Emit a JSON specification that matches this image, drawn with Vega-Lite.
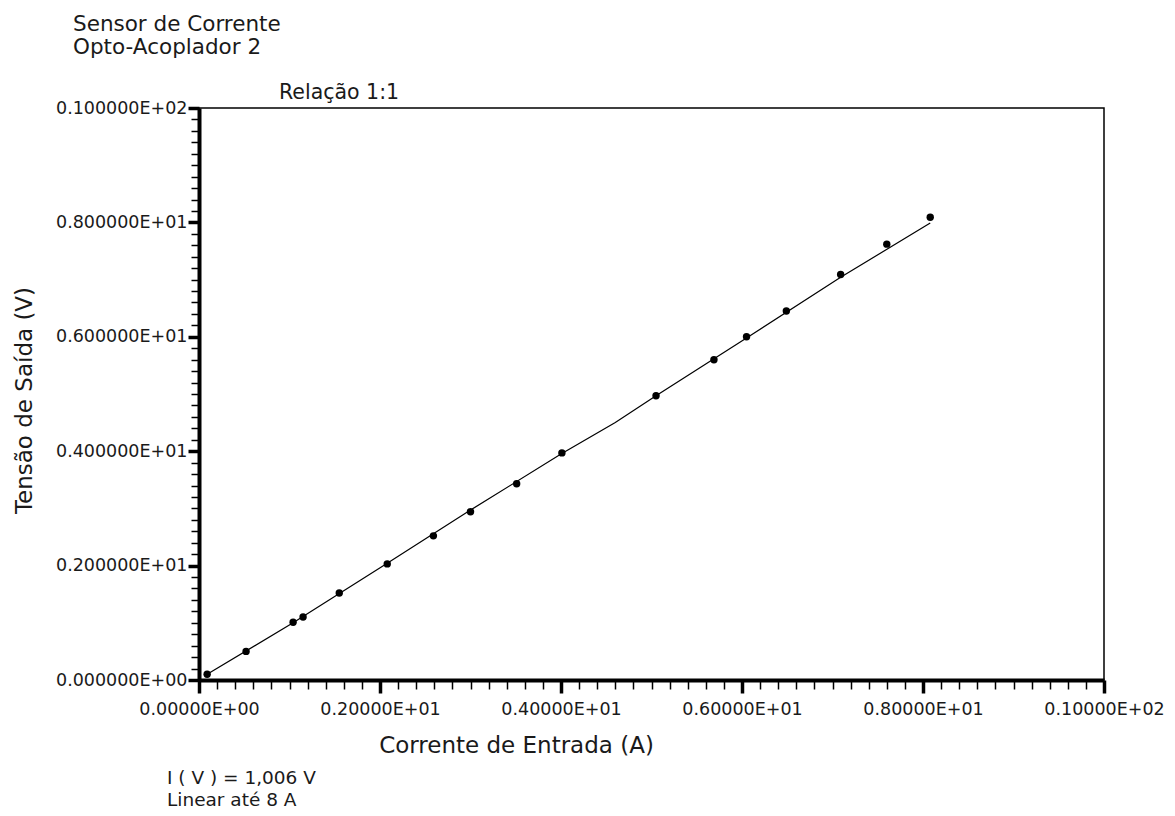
{
  "$schema": "https://vega.github.io/schema/vega-lite/v6.json",
  "width": 905,
  "height": 572,
  "autosize": {"type": "none"},
  "padding": {"left": 199, "top": 108, "right": 71, "bottom": 136},
  "background": "white",
  "config": {
    "font": "DejaVu Sans",
    "view": {"stroke": "black", "strokeWidth": 1.5}
  },
  "title": {
    "text": ["Sensor de Corrente", "Opto-Acoplador 2"],
    "anchor": "start",
    "frame": "group",
    "dx": -126,
    "dy": -5,
    "offset": 20,
    "font": "DejaVu Sans",
    "fontSize": 21.5,
    "fontWeight": "normal",
    "color": "#1a1a1a",
    "lineHeight": 23
  },
  "datasets": {
    "medidas": [
      {"corrente": 0.09, "tensao": 0.1},
      {"corrente": 0.52, "tensao": 0.5},
      {"corrente": 1.04, "tensao": 1.01},
      {"corrente": 1.15, "tensao": 1.1},
      {"corrente": 1.55, "tensao": 1.52},
      {"corrente": 2.08, "tensao": 2.03},
      {"corrente": 2.59, "tensao": 2.52},
      {"corrente": 3.0, "tensao": 2.94},
      {"corrente": 3.51, "tensao": 3.43},
      {"corrente": 4.01, "tensao": 3.97},
      {"corrente": 5.05, "tensao": 4.97},
      {"corrente": 5.69, "tensao": 5.6},
      {"corrente": 6.05, "tensao": 6.0},
      {"corrente": 6.49, "tensao": 6.45},
      {"corrente": 7.09, "tensao": 7.09},
      {"corrente": 7.6, "tensao": 7.62},
      {"corrente": 8.08, "tensao": 8.09}
    ],
    "ajuste": [
      {"corrente": 0.09, "tensao": 0.1},
      {"corrente": 1.04, "tensao": 1.0},
      {"corrente": 2.08, "tensao": 2.04},
      {"corrente": 3.0, "tensao": 2.97},
      {"corrente": 4.0, "tensao": 3.95},
      {"corrente": 4.6, "tensao": 4.5},
      {"corrente": 5.05, "tensao": 4.97},
      {"corrente": 6.05, "tensao": 5.98},
      {"corrente": 7.09, "tensao": 7.04},
      {"corrente": 8.08, "tensao": 7.99}
    ]
  },
  "layer": [
    {
      "data": {"name": "ajuste"},
      "mark": {"type": "line", "color": "black", "strokeWidth": 1.2},
      "encoding": {
        "x": {
          "field": "corrente",
          "type": "quantitative",
          "scale": {"domain": [0, 10], "nice": false, "zero": false},
          "axis": {
            "tickCount": 50,
            "labelExpr": "abs(datum.value / 2 - round(datum.value / 2)) < 0.001 ? (datum.value < 0.001 ? '0.00000E+00' : (datum.value > 9.999 ? '0.10000E+02' : '0.' + round(datum.value) + '0000E+01')) : ''",
            "labelFont": "DejaVu Sans",
            "labelFontSize": 17.5,
            "labelColor": "#1a1a1a",
            "labelOverlap": false,
            "labelFlush": false,
            "labelPadding": 7,
            "domainColor": "black",
            "domainWidth": 4,
            "tickColor": "black",
            "tickSize": {"condition": {"test": "abs(datum.value / 2 - round(datum.value / 2)) < 0.001", "value": 13}, "value": 9},
            "tickWidth": {"condition": {"test": "abs(datum.value / 2 - round(datum.value / 2)) < 0.001", "value": 3.5}, "value": 1.5},
            "grid": false,
            "title": "Corrente de Entrada (A)",
            "titleFont": "DejaVu Sans",
            "titleFontSize": 23,
            "titleFontWeight": "normal",
            "titleColor": "#1a1a1a",
            "titleX": 317,
            "titleY": 72,
            "titleAlign": "center",
            "titleBaseline": "alphabetic"
          }
        },
        "y": {
          "field": "tensao",
          "type": "quantitative",
          "scale": {"domain": [0, 10], "nice": false, "zero": false},
          "axis": {
            "tickCount": 50,
            "labelExpr": "abs(datum.value / 2 - round(datum.value / 2)) < 0.001 ? (datum.value < 0.001 ? '0.000000E+00' : (datum.value > 9.999 ? '0.100000E+02' : '0.' + round(datum.value) + '00000E+01')) : ''",
            "labelFont": "DejaVu Sans",
            "labelFontSize": 17.5,
            "labelColor": "#1a1a1a",
            "labelOverlap": false,
            "labelFlush": false,
            "labelPadding": 1,
            "domainColor": "black",
            "domainWidth": 4,
            "tickColor": "black",
            "tickSize": {"condition": {"test": "abs(datum.value / 2 - round(datum.value / 2)) < 0.001", "value": 11}, "value": 8},
            "tickWidth": {"condition": {"test": "abs(datum.value / 2 - round(datum.value / 2)) < 0.001", "value": 3.5}, "value": 1.5},
            "grid": false,
            "title": "Tensão de Saída (V)",
            "titleFont": "DejaVu Sans",
            "titleFontSize": 23,
            "titleFontWeight": "normal",
            "titleColor": "#1a1a1a",
            "titleX": -168,
            "titleY": 292,
            "titleAngle": -90,
            "titleAlign": "center",
            "titleBaseline": "alphabetic"
          }
        }
      }
    },
    {
      "data": {"name": "medidas"},
      "mark": {"type": "circle", "color": "black", "size": 55, "opacity": 1},
      "encoding": {
        "x": {"field": "corrente", "type": "quantitative"},
        "y": {"field": "tensao", "type": "quantitative"}
      }
    },
    {
      "data": {"values": [{}]},
      "mark": {"type": "text", "align": "left", "baseline": "alphabetic", "font": "DejaVu Sans", "fontSize": 20.5, "color": "#1a1a1a", "clip": false},
      "encoding": {
        "x": {"datum": 0.884, "type": "quantitative"},
        "y": {"datum": 10.157, "type": "quantitative"},
        "text": {"value": "Relação 1:1"}
      }
    },
    {
      "data": {"values": [{}]},
      "mark": {"type": "text", "align": "left", "baseline": "alphabetic", "font": "DejaVu Sans", "fontSize": 18.5, "lineHeight": 22, "color": "#1a1a1a", "clip": false},
      "encoding": {
        "x": {"datum": -0.354, "type": "quantitative"},
        "y": {"datum": -1.818, "type": "quantitative"},
        "text": {"value": ["I ( V ) = 1,006 V", "Linear até 8 A"]}
      }
    }
  ]
}
